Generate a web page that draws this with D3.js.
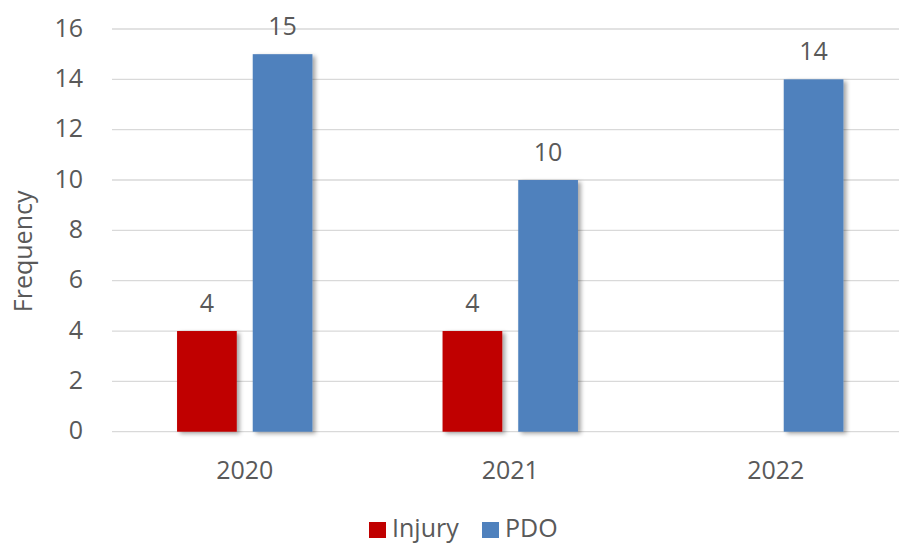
<!DOCTYPE html>
<html>
<head>
<meta charset="utf-8">
<script src="https://cdn.jsdelivr.net/npm/d3@7"></script>
<style>
  body { margin: 0; background: #fff; }
  text { font-family: "Open Sans", Lato, sans-serif; fill: #595959; }
</style>
</head>
<body>
<svg id="chart"></svg>
<script>
const years = ['2020', '2021', '2022'];
const seriesNames = ['Injury', 'PDO'];
const injury = [4, 4, null];
const pdo = [15, 10, 14];
const yTicks = [0, 2, 4, 6, 8, 10, 12, 14, 16];
const colors = ['#C00000', '#4F81BD'];

const width = 899;
const height = 544;

const svg = d3.select('#chart')
    .attr('width', width)
    .attr('height', height);

// soft shadow like the office chart
const defs = svg.append('defs');
const f = defs.append('filter').attr('id', 'shadow')
    .attr('x', '-20%').attr('y', '-20%').attr('width', '150%').attr('height', '150%');
f.append('feDropShadow')
    .attr('dx', 3).attr('dy', 2).attr('stdDeviation', 2)
    .attr('flood-color', '#000').attr('flood-opacity', 0.35);

const x = d3.scaleBand()
  .domain(years)
  .range([112, 908.5]);

const y = d3.scaleLinear()
  .domain([0, 16])
  .range([431.7, 29]);

const x1 = d3.scaleBand()
  .domain(seriesNames)
  .range([x.bandwidth() / 2 - 67.7, x.bandwidth() / 2 + 67.7])
  .paddingInner(0.211);

// grid
svg.append('g')
  .selectAll('line')
  .data(yTicks)
  .enter().append('line')
    .attr('x1', 112)
    .attr('x2', width)
    .attr('y1', d => y(d))
    .attr('y2', d => y(d))
    .attr('stroke', '#d9d9d9')
    .attr('stroke-width', 1.3);

// y tick labels
svg.append('g')
  .selectAll('text')
  .data(yTicks)
  .enter().append('text')
    .attr('x', 83)
    .attr('y', d => y(d) + 7.5)
    .style('text-anchor', 'end')
    .style('font-size', '25px')
    .text(d => d);

// y title
svg.append('text')
  .attr('transform', 'translate(32,' + (y(8) + 21) + ') rotate(-90)')
  .style('text-anchor', 'middle')
  .style('font-size', '25px')
  .text('Frequency');

const rows = years.map((yr, i) => ({ year: yr, values: [injury[i], pdo[i]] }));

const groups = svg.selectAll('.cat')
  .data(rows)
  .enter().append('g')
    .attr('class', 'cat')
    .attr('transform', d => 'translate(' + x(d.year) + ',0)');

const bars = groups.selectAll('.bar')
  .data(d => d.values.map((v, j) => ({ name: seriesNames[j], value: v, j: j })).filter(d => d.value != null))
  .enter();

bars.append('rect')
    .attr('x', d => x1(d.name))
    .attr('y', d => y(d.value))
    .attr('width', x1.bandwidth())
    .attr('height', d => y(0) - y(d.value))
    .attr('fill', d => colors[d.j])
    .attr('filter', 'url(#shadow)');

bars.append('text')
    .attr('x', d => x1(d.name) + x1.bandwidth() / 2)
    .attr('y', d => y(d.value) - 19)
    .style('text-anchor', 'middle')
    .style('font-size', '25px')
    .text(d => d.value);

// x labels
svg.append('g')
  .selectAll('text')
  .data(years)
  .enter().append('text')
    .attr('x', d => x(d) + x.bandwidth() / 2)
    .attr('y', 479)
    .style('text-anchor', 'middle')
    .style('font-size', '25px')
    .text(d => d);

// legend
const legendX = [369, 482];
const legend = svg.selectAll('.legend')
  .data(seriesNames)
  .enter().append('g')
    .attr('class', 'legend')
    .attr('transform', (d, i) => 'translate(' + legendX[i] + ',522)');

legend.append('rect')
    .attr('width', 17)
    .attr('height', 16)
    .attr('fill', (d, i) => colors[i]);

legend.append('text')
    .attr('x', 23)
    .attr('y', 15)
    .style('font-size', '25px')
    .text(d => d);
</script>
</body>
</html>
